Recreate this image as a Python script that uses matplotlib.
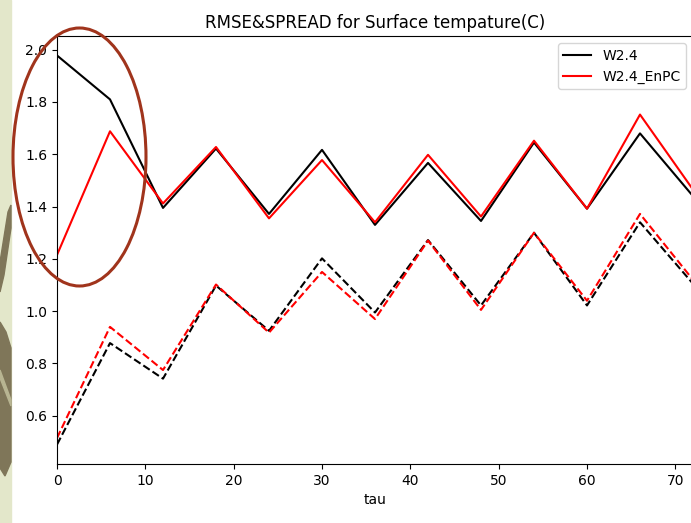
import matplotlib
matplotlib.use("Agg")
import matplotlib.pyplot as plt
from matplotlib.patches import Ellipse, Rectangle, Polygon

# forecast lead time (hours)
tau = [0, 6, 12, 18, 24, 30, 36, 42, 48, 54, 60, 66, 72]

# RMSE (solid) and SPREAD (dashed)
rmse_w24 = [1.978, 1.81, 1.395, 1.622, 1.372, 1.617, 1.330, 1.567, 1.345, 1.645, 1.392, 1.680, 1.440]
rmse_enpc = [1.215, 1.688, 1.412, 1.628, 1.355, 1.578, 1.340, 1.598, 1.362, 1.652, 1.392, 1.752, 1.465]
spread_w24 = [0.490, 0.878, 0.742, 1.098, 0.925, 1.202, 0.995, 1.272, 1.022, 1.300, 1.022, 1.340, 1.105]
spread_enpc = [0.515, 0.940, 0.775, 1.102, 0.918, 1.150, 0.970, 1.270, 1.005, 1.300, 1.040, 1.372, 1.120]

W, H = 691, 523
fig = plt.figure(figsize=(W / 100, H / 100), dpi=100)
px = fig.dpi_scale_trans


def pix(pts):
    # pixel coords (from top-left) -> inches for dpi_scale_trans
    return [(x / 100, (H - y) / 100) for x, y in pts]


# slide decoration on the left edge
fig.patches.append(Rectangle((0, 0), 0.11, H / 100, transform=px, color="#e3e7ca", zorder=0))
brown = "#7f7659"
fig.patches.append(Polygon(pix([(8, 212), (11, 205), (11, 228), (4, 275), (0, 292), (0, 262)]),
                           closed=True, transform=px, color=brown, zorder=0))
fig.patches.append(Polygon(pix([(0, 322), (6, 332), (11, 348), (11, 462), (5, 476), (0, 468)]),
                           closed=True, transform=px, color=brown, zorder=0))
fig.patches.append(Polygon(pix([(0, 370), (11, 400), (11, 406), (0, 378)]),
                           closed=True, transform=px, color="#b8b592", zorder=0))

# axes placed so the right edge runs just past the picture
ax = fig.add_axes([57 / W, (H - 464) / H, 636 / W, 428 / H])

ax.plot(tau, rmse_w24, color="black", label="W2.4")
ax.plot(tau, rmse_enpc, color="red", label="W2.4_EnPC")
ax.plot(tau, spread_w24, color="black", linestyle="--")
ax.plot(tau, spread_enpc, color="red", linestyle="--")

ax.set_xlim(0, 72)
ax.set_title("RMSE&SPREAD for Surface tempature(C)")
ax.set_xlabel("tau")
ax.legend(loc="upper right")

# hand-drawn highlight ellipse
fig.patches.append(Ellipse((79.5 / 100, (H - 157) / 100), 1.33, 2.58, transform=px,
                           fill=False, edgecolor="#a0341c", linewidth=2.2, zorder=10))

fig.savefig("out.png", dpi=100)
